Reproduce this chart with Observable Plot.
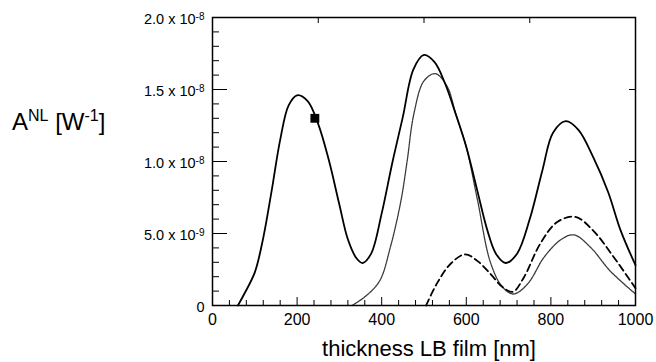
<!DOCTYPE html>
<html><head><meta charset="utf-8">
<script src="https://cdn.jsdelivr.net/npm/d3@7"></script>
<script src="https://cdn.jsdelivr.net/npm/@observablehq/plot@0.6"></script>
<style>
body{margin:0;background:#fff;}
svg{display:block;font-family:"Liberation Sans",Arial,Helvetica,sans-serif;}
</style>
</head><body><div id="chart"></div>
<script>
// ---- data (thickness in nm, A^NL in units of 1e-9 W^-1) ----
const solidX = [60,75,100,120,140,160,180,200,225,250,275,300,320,340,355,375,400,425,450,475,500,525,550,575,600,625,650,670,693,720,750,780,805,835,865,900,935,965,1000];
const solidY = [0,0.8,2.3,4.7,8.0,11.5,13.9,14.6,14.2,12.6,10.1,7.0,4.6,3.3,2.95,3.6,6.4,9.9,13.1,16.4,17.4,16.9,15.4,13.3,11.0,8.1,5.2,3.6,2.95,3.6,6.0,9.4,12.0,12.8,12.2,10.3,7.9,5.2,2.8];

const dottedX = [330,360,395,420,445,460,476,500,527,555,575,600,626,657,685,712,745,785,825,855,895,940,1000];
const dottedY = [0,0.6,1.7,4.0,7.2,10.0,13.3,15.6,16.1,15.2,13.3,11.0,7.4,3.0,1.3,0.8,1.5,3.4,4.6,4.9,4.0,2.4,0.8];

const dashedX = [505,530,563,597,626,657,685,710,736,775,815,858,900,950,1000];
const dashedY = [0,1.5,2.9,3.55,3.1,2.2,1.3,0.95,1.95,4.3,5.8,6.15,5.2,3.3,1.2];

const markerX = [242];
const markerY = [13.0];

const xMajorTicks = [0,200,400,600,800,1000];
const xMinorTicks = [40,80,120,160,240,280,320,360,440,480,520,560,640,680,720,760,840,880,920,960];
const xTopTicks = [250,500,750];
const yMajorTicks = [0,5,10,15,20];
const yMinorTicks = [1,2,3,4,6,7,8,9,11,12,13,14,16,17,18,19];
const yRightTicks = [5,10,15];
const yTickMantissa = ["0","5.0 x 10","1.0 x 10","1.5 x 10","2.0 x 10"];
const yTickExponent = ["","-9","-8","-8","-8"];
const xLabel = "thickness LB film [nm]";

// ---- layout ----
const W = 656, H = 362, mL = 212, mR = 21, mT = 17, mB = 57;
const fw = W - mL - mR, fh = H - mT - mB;

const solid = solidX.map((x, i) => ({x, y: solidY[i]}));
const dotted = dottedX.map((x, i) => ({x, y: dottedY[i]}));
const dashed = dashedX.map((x, i) => ({x, y: dashedY[i]}));
const marker = markerX.map((x, i) => ({x, y: markerY[i]}));

const chart = Plot.plot({
  width: W, height: H,
  marginLeft: mL, marginRight: mR, marginTop: mT, marginBottom: mB,
  style: {background: "white", color: "black", fontFamily: "'Liberation Sans', Arial, Helvetica, sans-serif"},
  x: {domain: [0, 1000]},
  y: {domain: [0, 20]},
  marks: [
    Plot.tickX(xMinorTicks, {x: d => d, insetTop: fh - 5, stroke: "black"}),
    Plot.tickX(xMajorTicks, {x: d => d, insetTop: fh - 8, stroke: "black"}),
    Plot.tickX(xTopTicks, {x: d => d, insetBottom: fh - 6, stroke: "black"}),
    Plot.tickY(yMinorTicks, {y: d => d, insetRight: fw - 7, stroke: "black"}),
    Plot.tickY(yMajorTicks, {y: d => d, insetRight: fw - 15, stroke: "black"}),
    Plot.tickY(yRightTicks, {y: d => d, insetLeft: fw - 6, stroke: "black"}),
    Plot.line(dotted, {x: "x", y: "y", curve: "catmull-rom", stroke: "#3a3a3a", strokeWidth: 1.3, strokeDasharray: "2,0.8"}),
    Plot.line(dashed, {x: "x", y: "y", curve: "catmull-rom", stroke: "black", strokeWidth: 1.8, strokeDasharray: "7,4"}),
    Plot.line(solid, {x: "x", y: "y", curve: "catmull-rom", stroke: "black", strokeWidth: 1.8}),
    Plot.dot(marker, {x: "x", y: "y", symbol: "square", r: 5, fill: "black", stroke: "none"}),
    Plot.frame({stroke: "black", strokeWidth: 1.5}),
    Plot.axisX({ticks: xMajorTicks, tickSize: 0, tickPadding: 8, fontSize: 16, label: null, tickFormat: d => String(d)}),
    Plot.axisY({ticks: yMajorTicks, tickSize: 0, tickPadding: 8, fontSize: 14.5, label: null, dy: 2,
      tickFormat: d => {
        const i = yMajorTicks.indexOf(d);
        return yTickExponent[i] ? yTickMantissa[i] + "|" + yTickExponent[i] : yTickMantissa[i];
      }}),
    Plot.text([xLabel], {frameAnchor: "bottom", dy: 50, dx: 5, text: d => d, fontSize: 22})
  ]
});

// superscripts in y tick labels
d3.select(chart).selectAll('g[aria-label="y-axis tick label"] text').each(function () {
  const t = d3.select(this);
  const s = t.text();
  if (!s.includes("|")) return;
  const [m, e] = s.split("|");
  t.text(m);
  t.append("tspan").attr("dy", "-0.45em").attr("font-size", 10).text(e);
});

// y axis title with superscripts
const yt = d3.select(chart).append("text")
  .attr("x", 12).attr("y", 130)
  .attr("text-anchor", "start")
  .attr("font-size", 24).attr("fill", "black");
yt.append("tspan").text("A");
yt.append("tspan").attr("font-size", 16).attr("dy", -9).text("NL");
yt.append("tspan").attr("dy", 9).text(" [W");
yt.append("tspan").attr("font-size", 16).attr("dy", -9).text("-1");
yt.append("tspan").attr("dy", 9).text("]");

document.getElementById("chart").append(chart);
</script>
</body></html>
